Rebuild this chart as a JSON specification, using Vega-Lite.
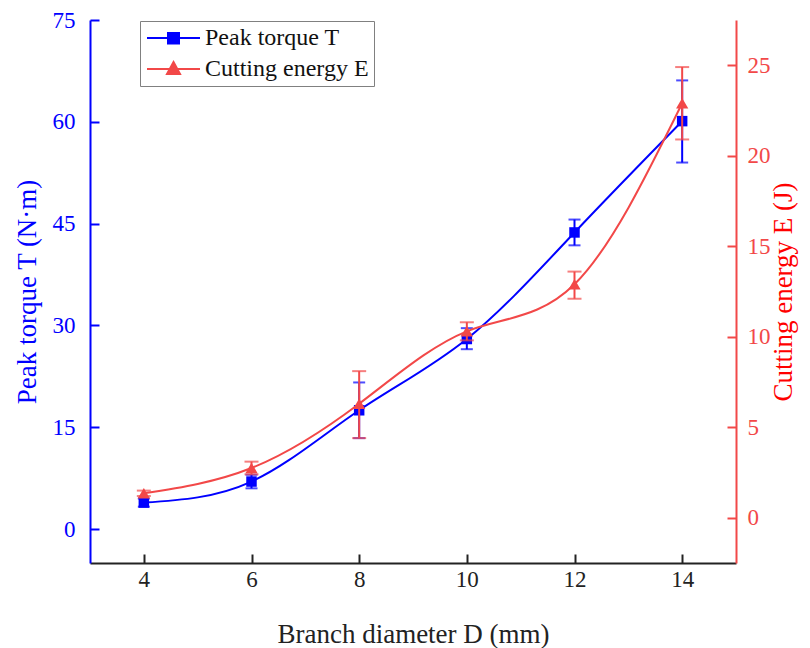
{
  "$schema": "https://vega.github.io/schema/vega-lite/v6.json",
  "width": 646,
  "height": 543,
  "autosize": "none",
  "padding": {"left": 90, "top": 20, "right": 74, "bottom": 85},
  "background": "white",
  "config": {
    "font": "Liberation Serif",
    "view": {"stroke": null},
    "axis": {
      "grid": false,
      "labelFont": "Liberation Serif",
      "titleFont": "Liberation Serif",
      "labelFontSize": 23,
      "titleFontSize": 27,
      "titleFontWeight": "normal",
      "tickSize": -9,
      "tickWidth": 2,
      "domainWidth": 2,
      "labelPadding": 20
    }
  },
  "data": {
    "values": [
      {"series": "Peak torque T", "D": 4, "v": 3.9, "lo": 3.3, "hi": 4.5},
      {"series": "Peak torque T", "D": 6, "v": 7.0, "lo": 6.0, "hi": 8.0},
      {"series": "Peak torque T", "D": 8, "v": 17.5, "lo": 13.4, "hi": 21.6},
      {"series": "Peak torque T", "D": 10, "v": 28.0, "lo": 26.5, "hi": 29.6},
      {"series": "Peak torque T", "D": 12, "v": 43.7, "lo": 41.8, "hi": 45.6},
      {"series": "Peak torque T", "D": 14, "v": 60.1, "lo": 54.0, "hi": 66.1},
      {"series": "Cutting energy E", "D": 4, "v": 1.35, "lo": 1.2, "hi": 1.5},
      {"series": "Cutting energy E", "D": 6, "v": 2.75, "lo": 2.4, "hi": 3.1},
      {"series": "Cutting energy E", "D": 8, "v": 6.3, "lo": 4.4, "hi": 8.1},
      {"series": "Cutting energy E", "D": 10, "v": 10.3, "lo": 9.8, "hi": 10.8},
      {"series": "Cutting energy E", "D": 12, "v": 12.9, "lo": 12.1, "hi": 13.6},
      {"series": "Cutting energy E", "D": 14, "v": 22.9, "lo": 20.9, "hi": 24.9}
    ]
  },
  "encoding": {
    "x": {
      "field": "D",
      "type": "quantitative",
      "scale": {"domain": [3, 15], "nice": false, "zero": false},
      "axis": {
        "values": [4, 6, 8, 10, 12, 14],
        "title": "Branch diameter D (mm)",
        "domainColor": "#222222",
        "tickColor": "#222222",
        "labelColor": "#222222",
        "titleColor": "#222222",
        "labelPadding": 14,
        "titlePadding": 30
      }
    }
  },
  "layer": [
    {
      "transform": [{"filter": "datum.series == 'Peak torque T'"}],
      "layer": [
        {
          "mark": {"type": "line", "interpolate": "natural", "color": "#0000FF", "strokeWidth": 2},
          "encoding": {
            "y": {
              "field": "v",
              "type": "quantitative",
              "scale": {"domain": [-5, 75], "nice": false, "zero": false},
              "axis": {
                "orient": "left",
                "values": [0, 15, 30, 45, 60, 75],
                "title": "Peak torque T (N·m)",
                "domainColor": "#0000FF",
                "tickColor": "#0000FF",
                "labelColor": "#0000FF",
                "titleColor": "#0000FF",
                "labelPadding": 24,
                "titlePadding": 11
              }
            }
          }
        },
        {
          "mark": {"type": "errorbar", "color": "#0000FF", "ticks": {"size": 12, "thickness": 2}, "rule": {"strokeWidth": 2}},
          "encoding": {
            "y": {"field": "lo", "type": "quantitative", "scale": {"domain": [-5, 75], "nice": false, "zero": false}, "title": "Peak torque T (N·m)"},
            "y2": {"field": "hi"}
          }
        },
        {
          "mark": {"type": "point", "shape": "square", "filled": true, "size": 110, "opacity": 1, "color": "#0000FF"},
          "encoding": {
            "y": {"field": "v", "type": "quantitative", "title": "Peak torque T (N·m)"}
          }
        },
        {
          "mark": {"type": "point", "filled": true, "size": 400, "opacity": 0, "strokeWidth": 2},
          "encoding": {
            "y": {"field": "v", "type": "quantitative", "title": "Peak torque T (N·m)"},
            "fill": {
              "field": "series",
              "type": "nominal",
              "scale": {"domain": ["Peak torque T", "Cutting energy E"], "range": ["#0000FF", "#F24848"]},
              "legend": {
                "orient": "none", "legendX": 50, "legendY": 1, "title": null,
                "strokeColor": "#808080", "fillColor": "white", "padding": 5,
                "labelFont": "Liberation Serif", "labelFontSize": 24, "labelColor": "#111111",
                "labelLimit": 300, "labelOffset": 36, "symbolSize": 400, "symbolStrokeWidth": 2,
                "symbolOpacity": 1, "rowPadding": 7
              }
            },
            "stroke": {
              "field": "series",
              "type": "nominal",
              "scale": {"domain": ["Peak torque T", "Cutting energy E"], "range": ["#0000FF", "#F24848"]},
              "legend": {
                "orient": "none", "legendX": 50, "legendY": 1, "title": null,
                "strokeColor": "#808080", "fillColor": "white", "padding": 5,
                "labelFont": "Liberation Serif", "labelFontSize": 24, "labelColor": "#111111",
                "labelLimit": 300, "labelOffset": 36, "symbolSize": 400, "symbolStrokeWidth": 2,
                "symbolOpacity": 1, "rowPadding": 7
              }
            },
            "shape": {
              "field": "series",
              "type": "nominal",
              "scale": {
                "domain": ["Peak torque T", "Cutting energy E"],
                "range": ["M-1,0L4.3,0M1.1,-0.5L2.2,-0.5L2.2,0.55L1.1,0.55Z", "M-1,0L4.3,0M1.65,-0.7L2.3,0.5L1,0.5Z"]
              },
              "legend": {
                "orient": "none", "legendX": 50, "legendY": 1, "title": null,
                "strokeColor": "#808080", "fillColor": "white", "padding": 5,
                "labelFont": "Liberation Serif", "labelFontSize": 24, "labelColor": "#111111",
                "labelLimit": 300, "labelOffset": 36, "symbolSize": 400, "symbolStrokeWidth": 2,
                "symbolOpacity": 1, "rowPadding": 7
              }
            }
          }
        }
      ]
    },
    {
      "transform": [{"filter": "datum.series == 'Cutting energy E'"}],
      "layer": [
        {
          "mark": {"type": "line", "interpolate": "natural", "color": "#F24848", "strokeWidth": 2},
          "encoding": {
            "y": {
              "field": "v",
              "type": "quantitative",
              "scale": {"domain": [-2.5, 27.5], "nice": false, "zero": false},
              "axis": {
                "orient": "right",
                "values": [0, 5, 10, 15, 20, 25],
                "title": "Cutting energy E (J)",
                "titleAngle": 270,
                "domainColor": "#F24848",
                "tickColor": "#F24848",
                "labelColor": "#F24848",
                "titleColor": "#FF0000",
                "titlePadding": 27
              }
            }
          }
        },
        {
          "mark": {"type": "errorbar", "color": "#F24848", "ticks": {"size": 14, "thickness": 2}, "rule": {"strokeWidth": 2}},
          "encoding": {
            "y": {"field": "lo", "type": "quantitative", "scale": {"domain": [-2.5, 27.5], "nice": false, "zero": false}, "title": "Cutting energy E (J)"},
            "y2": {"field": "hi"}
          }
        },
        {
          "mark": {"type": "point", "shape": "triangle-up", "filled": true, "size": 150, "opacity": 1, "color": "#F24848"},
          "encoding": {
            "y": {"field": "v", "type": "quantitative", "title": "Cutting energy E (J)"}
          }
        }
      ]
    }
  ],
  "resolve": {"scale": {"y": "independent"}}
}
